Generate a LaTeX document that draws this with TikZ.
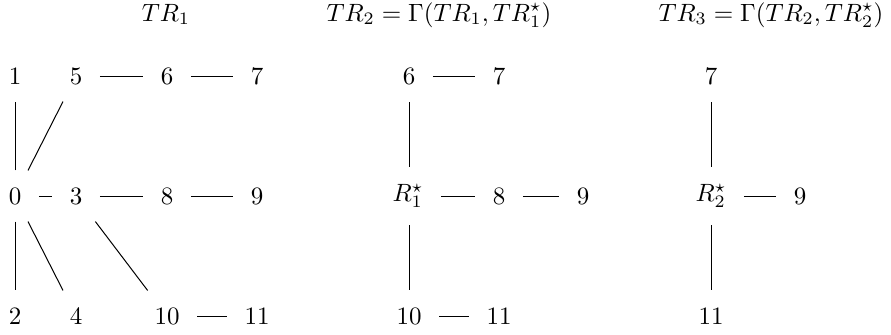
\documentclass[tikz,border=0pt]{standalone}
\usepackage{amsmath,amssymb}

\begin{document}
\begin{tikzpicture}[x=0.4pt, y=-0.4pt, every node/.style={inner sep=6.8pt}]
\useasboundingbox (0,0) rectangle (891,334);
% titles
\node[anchor=base, inner sep=0pt] (t1) at (166,21) {$TR_1$};
\node[anchor=base, inner sep=0pt] (t2) at (439,21) {$TR_2 = \Gamma(TR_1, TR_1^\star)$};
\node[anchor=base, inner sep=0pt] (t3) at (771,21) {$TR_3 = \Gamma(TR_2, TR_2^\star)$};

% first tree
\node (a1) at (15,76) {$1$};
\node (a5) at (76,76) {$5$};
\node (a6) at (167,76) {$6$};
\node (a7) at (257,76) {$7$};
\node (a0) at (15,196) {$0$};
\node (a3) at (76,196) {$3$};
\node (a8) at (167,196) {$8$};
\node (a9) at (257,196) {$9$};
\node (a2) at (15,316) {$2$};
\node (a4) at (76,316) {$4$};
\node (a10) at (167,316) {$10$};
\node (a11) at (257,316) {$11$};

\draw (a0)--(a1);
\draw (a0)--(a5);
\draw (a5)--(a6);
\draw (a6)--(a7);
\draw (a0)--(a3);
\draw (a3)--(a8);
\draw (a8)--(a9);
\draw (a0)--(a2);
\draw (a0)--(a4);
\draw (a3)--(a10);
\draw (a10)--(a11);

% second tree
\node (b6) at (409,76) {$6$};
\node (b7) at (499,76) {$7$};
\node (r1) at (408,196) {$R_1^\star$};
\node (b8) at (499,196) {$8$};
\node (b9) at (583,196) {$9$};
\node (b10) at (409,316) {$10$};
\node (b11) at (499,316) {$11$};

\draw (b6)--(b7);
\draw (r1.north -| b6)--(b6);
\draw (r1)--(b8);
\draw (b8)--(b9);
\draw (r1.south -| b10)--(b10);
\draw (b10)--(b11);

% third tree
\node (c7) at (711,76) {$7$};
\node (r2) at (711,196) {$R_2^\star$};
\node (c9) at (800,196) {$9$};
\node (c11) at (711,316) {$11$};

\draw (r2)--(c7);
\draw (r2)--(c9);
\draw (r2)--(c11);
\end{tikzpicture}
\end{document}
